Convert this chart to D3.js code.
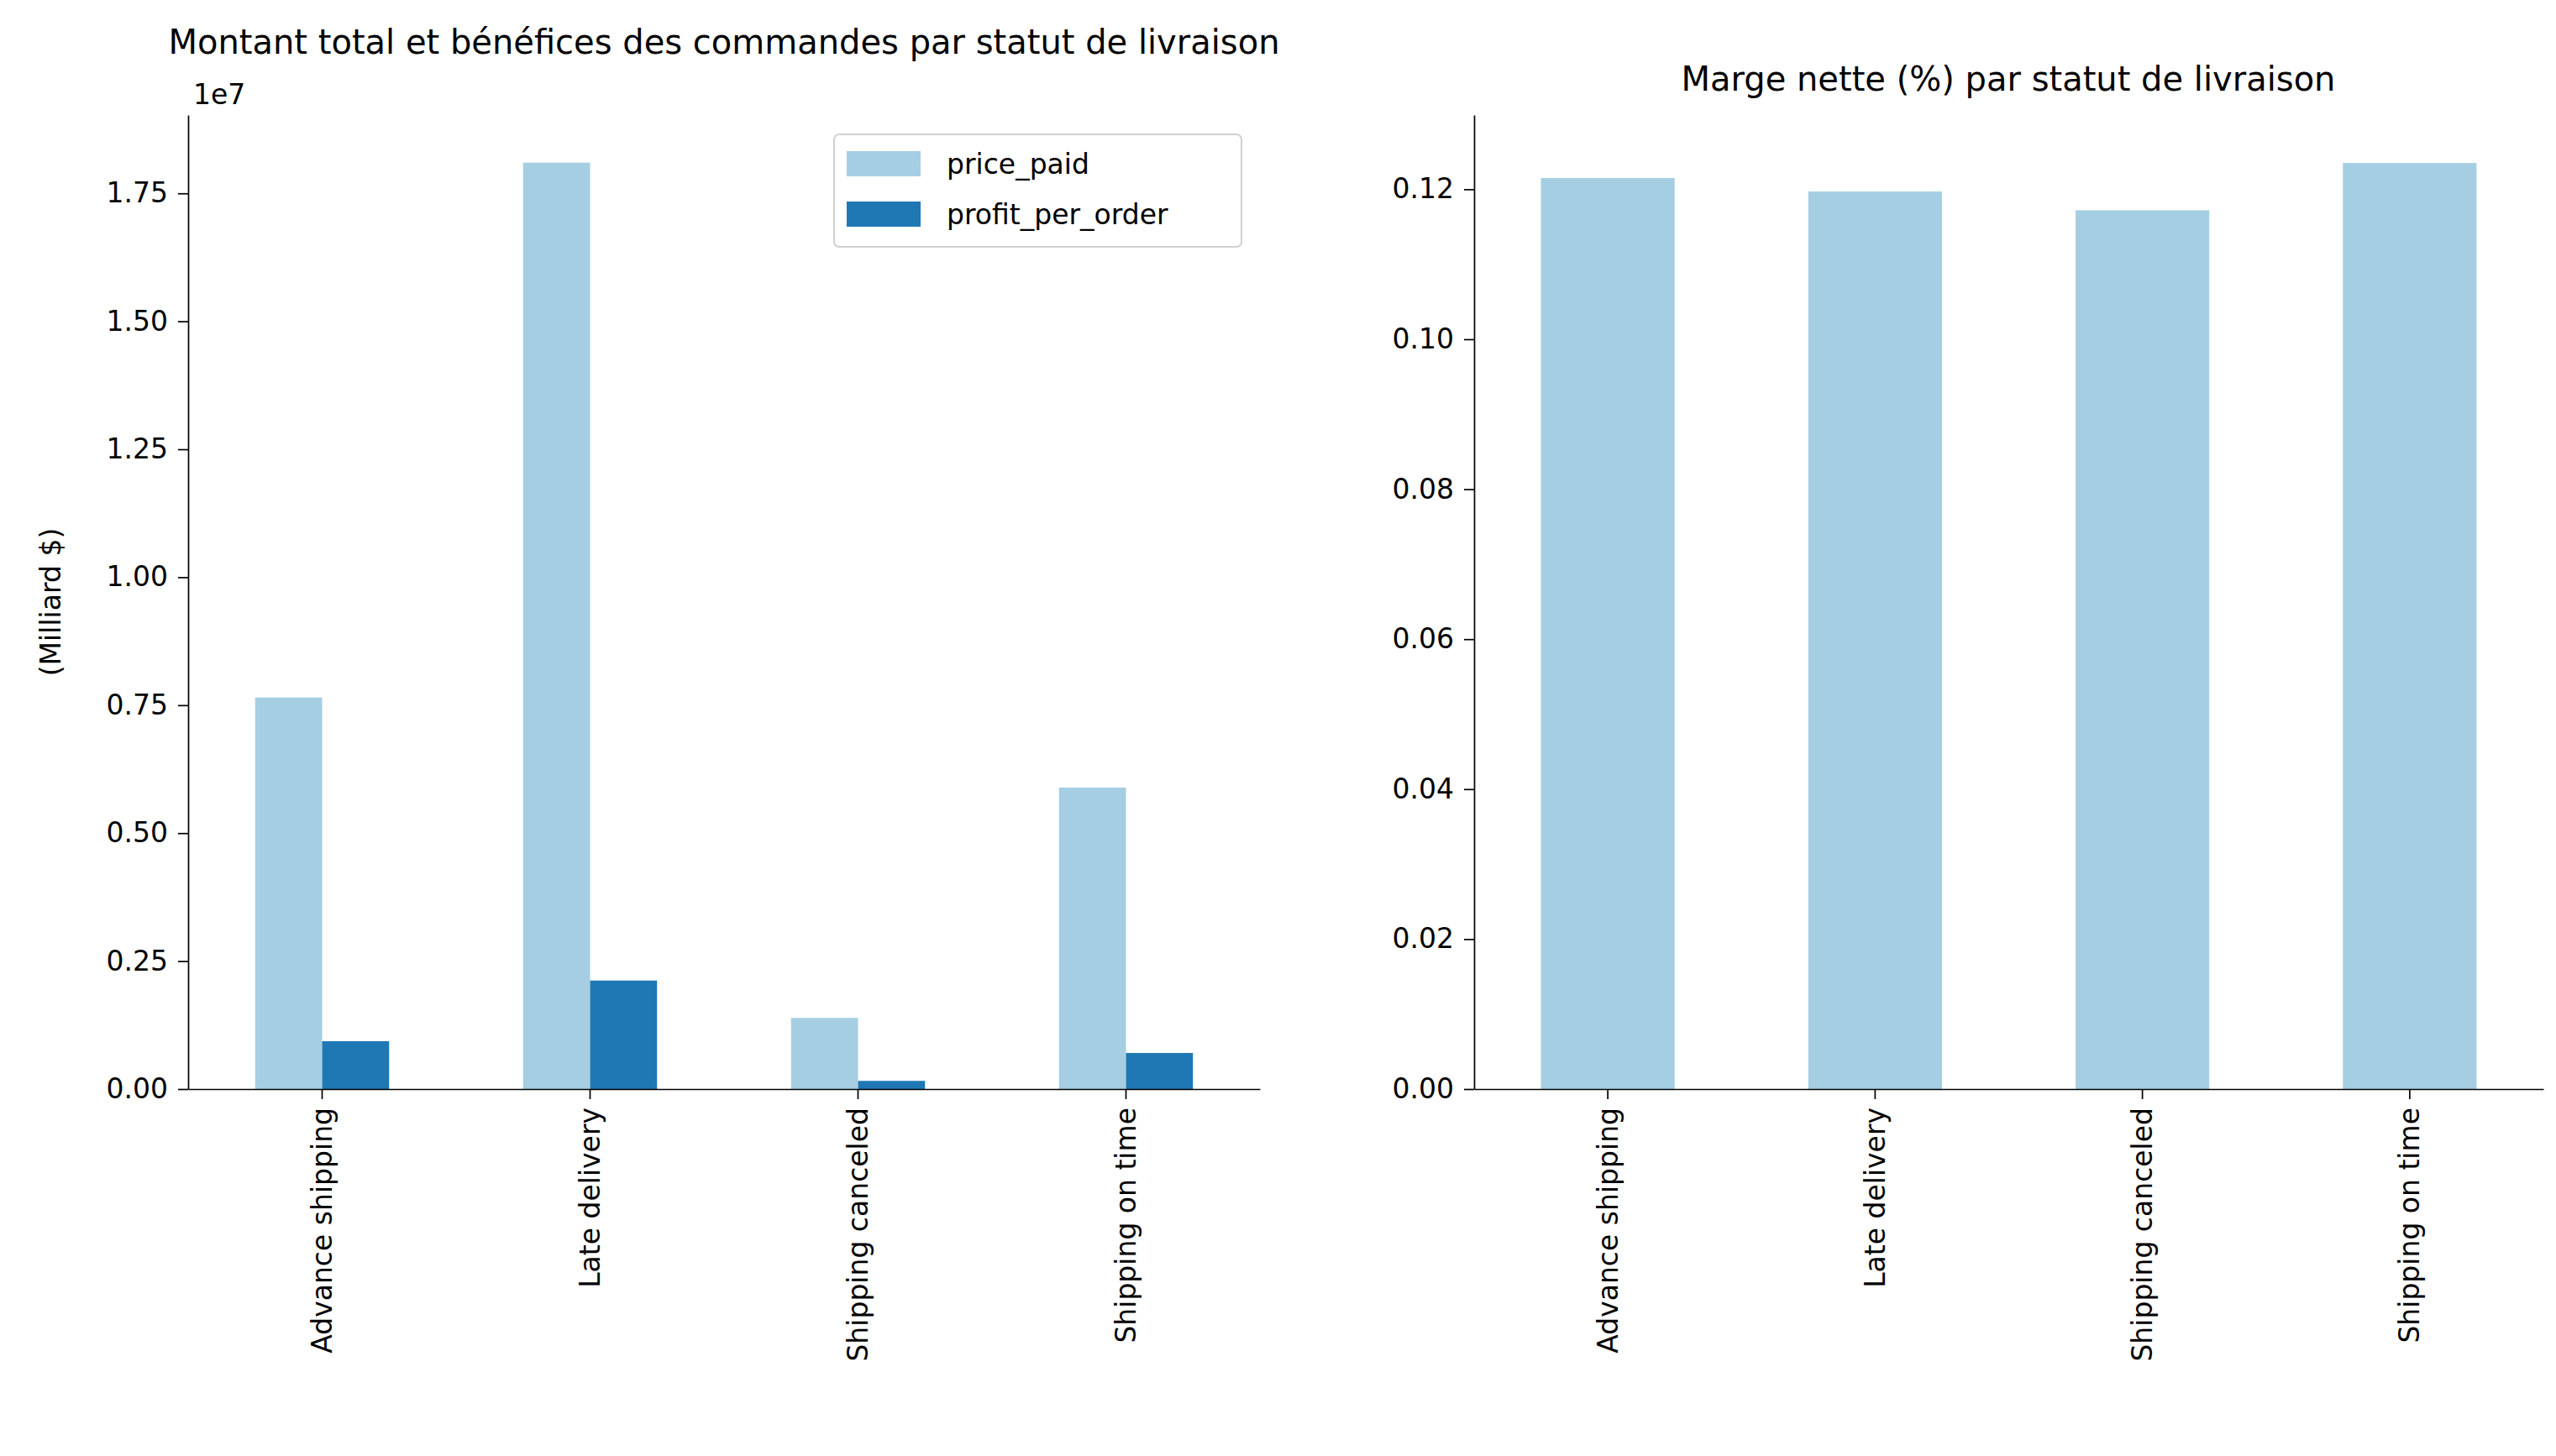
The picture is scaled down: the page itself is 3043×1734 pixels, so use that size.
<!DOCTYPE html>
<html>
<head>
<meta charset="utf-8" />
<script src="https://cdnjs.cloudflare.com/ajax/libs/d3/7.8.5/d3.min.js"></script>
<style>
  body { margin: 0; background: #fff; }
  svg text { font-family: "DejaVu Sans", sans-serif; fill: #000; }
  .tick line, .domain { stroke: #000; stroke-width: 1.7px; }
</style>
</head>
<body>
<svg id="chart" width="3043" height="1734"></svg>
<script>
// data
const categories = ["Advance shipping", "Late delivery", "Shipping canceled", "Shipping on time"];
const pricePaid = [7.65e6, 1.81e7, 1.39e6, 5.89e6];
const profitPerOrder = [0.935e6, 2.12e6, 0.16e6, 0.705e6];
const netMargin = [0.1215, 0.1197, 0.1172, 0.1235];
const leftTicks = [0, 0.25e7, 0.5e7, 0.75e7, 1e7, 1.25e7, 1.5e7, 1.75e7];
const rightTicks = [0, 0.02, 0.04, 0.06, 0.08, 0.10, 0.12];
const seriesNames = ["price_paid", "profit_per_order"];
const colors = ["#a6cee3", "#1f78b4"];

const svg = d3.select("#chart");
const plotTop = 137, plotBottom = 1297;
const fs = 33;

function xAxisRot(g) {
  g.selectAll(".tick text")
    .attr("transform", "rotate(-90)")
    .attr("text-anchor", "end")
    .attr("x", -22).attr("y", 0).attr("dy", "0.35em")
    .style("font-size", fs + "px");
}

// ---- left panel
const x1 = d3.scaleBand().domain(categories).range([224, 1500]).padding(0);
const y1 = d3.scaleLinear().domain([0, 1.903e7]).range([plotBottom, plotTop]);
const bw = x1.bandwidth() * 0.25;
const g1 = svg.append("g");
categories.forEach((c, i) => {
  const cx = x1(c) + x1.bandwidth() / 2;
  [pricePaid[i], profitPerOrder[i]].forEach((v, k) => {
    g1.append("rect")
      .attr("x", cx - bw + k * bw).attr("width", bw)
      .attr("y", y1(v)).attr("height", y1(0) - y1(v))
      .attr("fill", colors[k]);
  });
});
svg.append("g").attr("transform", `translate(224,0)`)
  .call(d3.axisLeft(y1).tickValues(leftTicks).tickSize(12).tickPadding(12)
    .tickFormat(d => (d / 1e7).toFixed(2)).tickSizeOuter(0))
  .call(g => g.selectAll("text").style("font-size", fs + "px"));
svg.append("g").attr("transform", `translate(0,${plotBottom})`)
  .call(d3.axisBottom(x1).tickSize(12).tickSizeOuter(0))
  .call(xAxisRot);
svg.append("text").attr("x", 230).attr("y", 124).style("font-size", fs + "px").text("1e7");
svg.append("text").attr("transform", "translate(72,717) rotate(-90)")
  .attr("text-anchor", "middle").style("font-size", fs + "px").text("(Milliard $)");
svg.append("text").attr("x", 862).attr("y", 64).attr("text-anchor", "middle")
  .style("font-size", "40px").text("Montant total et bénéfices des commandes par statut de livraison");

// legend
const lg = svg.append("g");
lg.append("rect").attr("x", 993).attr("y", 160).attr("width", 485).attr("height", 134)
  .attr("rx", 6).attr("fill", "#fff").attr("stroke", "#d0d0d0").attr("stroke-width", 2);
seriesNames.forEach((s, k) => {
  lg.append("rect").attr("x", 1008).attr("y", 180 + k * 60).attr("width", 88).attr("height", 30)
    .attr("fill", colors[k]);
  lg.append("text").attr("x", 1127).attr("y", 207 + k * 60).style("font-size", fs + "px").text(s);
});

// ---- right panel
const x2 = d3.scaleBand().domain(categories).range([1755, 3028]).padding(0);
const y2 = d3.scaleLinear().domain([0, 0.1299]).range([plotBottom, plotTop]);
svg.append("g").selectAll("rect").data(categories).join("rect")
  .attr("x", d => x2(d) + x2.bandwidth() * 0.25)
  .attr("width", x2.bandwidth() * 0.5)
  .attr("y", (d, i) => y2(netMargin[i]))
  .attr("height", (d, i) => y2(0) - y2(netMargin[i]))
  .attr("fill", colors[0]);
svg.append("g").attr("transform", `translate(1755,0)`)
  .call(d3.axisLeft(y2).tickValues(rightTicks).tickSize(12).tickPadding(12)
    .tickFormat(d3.format(".2f")).tickSizeOuter(0))
  .call(g => g.selectAll("text").style("font-size", fs + "px"));
svg.append("g").attr("transform", `translate(0,${plotBottom})`)
  .call(d3.axisBottom(x2).tickSize(12).tickSizeOuter(0))
  .call(xAxisRot);
svg.append("text").attr("x", 2391).attr("y", 108).attr("text-anchor", "middle")
  .style("font-size", "40px").text("Marge nette (%) par statut de livraison");
</script>
</body>
</html>
